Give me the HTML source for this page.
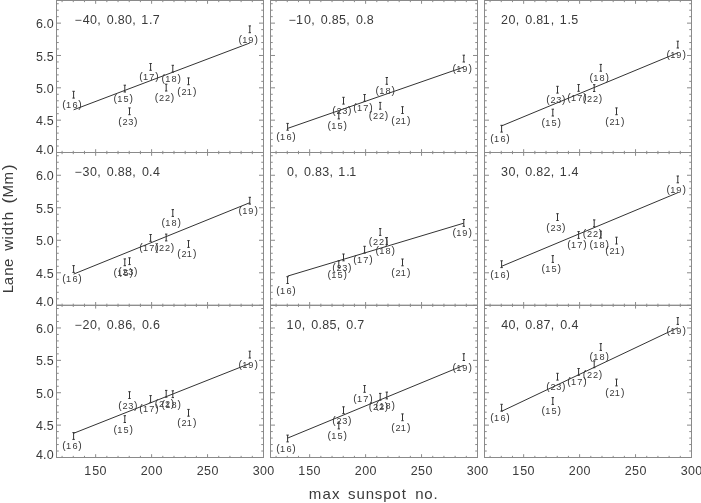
<!DOCTYPE html>
<html><head><meta charset="utf-8"><style>
html,body{margin:0;padding:0;background:#fff;}
svg{display:block;will-change:transform;}
text{font-family:"Liberation Sans",sans-serif;}
</style></head><body>
<svg width="701" height="503" viewBox="0 0 701 503">
<rect width="701" height="503" fill="#fff"/>
<rect x="56.5" y="0.5" width="207" height="152" fill="none" stroke="#8a8a8a" stroke-width="1"/>
<path d="M62.09 152.5v-1.65M62.09 0.5v1.65M73.28 152.5v-1.65M73.28 0.5v1.65M84.47 152.5v-1.65M84.47 0.5v1.65M95.66 152.5v-3.3M95.66 0.5v3.3M106.85 152.5v-1.65M106.85 0.5v1.65M118.04 152.5v-1.65M118.04 0.5v1.65M129.23 152.5v-1.65M129.23 0.5v1.65M140.42 152.5v-1.65M140.42 0.5v1.65M151.61 152.5v-3.3M151.61 0.5v3.3M162.8 152.5v-1.65M162.8 0.5v1.65M173.99 152.5v-1.65M173.99 0.5v1.65M185.18 152.5v-1.65M185.18 0.5v1.65M196.36 152.5v-1.65M196.36 0.5v1.65M207.55 152.5v-3.3M207.55 0.5v3.3M218.74 152.5v-1.65M218.74 0.5v1.65M229.93 152.5v-1.65M229.93 0.5v1.65M241.12 152.5v-1.65M241.12 0.5v1.65M252.31 152.5v-1.65M252.31 0.5v1.65M263.5 152.5v-3.3M263.5 0.5v3.3M56.5 152.5h4.5M263.5 152.5h-4.5M56.5 146.03h2.25M263.5 146.03h-2.25M56.5 139.56h2.25M263.5 139.56h-2.25M56.5 133.1h2.25M263.5 133.1h-2.25M56.5 126.63h2.25M263.5 126.63h-2.25M56.5 120.16h4.5M263.5 120.16h-4.5M56.5 113.69h2.25M263.5 113.69h-2.25M56.5 107.22h2.25M263.5 107.22h-2.25M56.5 100.76h2.25M263.5 100.76h-2.25M56.5 94.29h2.25M263.5 94.29h-2.25M56.5 87.82h4.5M263.5 87.82h-4.5M56.5 81.35h2.25M263.5 81.35h-2.25M56.5 74.88h2.25M263.5 74.88h-2.25M56.5 68.41h2.25M263.5 68.41h-2.25M56.5 61.95h2.25M263.5 61.95h-2.25M56.5 55.48h4.5M263.5 55.48h-4.5M56.5 49.01h2.25M263.5 49.01h-2.25M56.5 42.54h2.25M263.5 42.54h-2.25M56.5 36.07h2.25M263.5 36.07h-2.25M56.5 29.61h2.25M263.5 29.61h-2.25M56.5 23.14h4.5M263.5 23.14h-4.5M56.5 16.67h2.25M263.5 16.67h-2.25M56.5 10.2h2.25M263.5 10.2h-2.25M56.5 3.73h2.25M263.5 3.73h-2.25" stroke="#8a8a8a" stroke-width="1" fill="none"/>
<rect x="270.5" y="0.5" width="207" height="152" fill="none" stroke="#8a8a8a" stroke-width="1"/>
<path d="M276.09 152.5v-1.65M276.09 0.5v1.65M287.28 152.5v-1.65M287.28 0.5v1.65M298.47 152.5v-1.65M298.47 0.5v1.65M309.66 152.5v-3.3M309.66 0.5v3.3M320.85 152.5v-1.65M320.85 0.5v1.65M332.04 152.5v-1.65M332.04 0.5v1.65M343.23 152.5v-1.65M343.23 0.5v1.65M354.42 152.5v-1.65M354.42 0.5v1.65M365.61 152.5v-3.3M365.61 0.5v3.3M376.8 152.5v-1.65M376.8 0.5v1.65M387.99 152.5v-1.65M387.99 0.5v1.65M399.18 152.5v-1.65M399.18 0.5v1.65M410.36 152.5v-1.65M410.36 0.5v1.65M421.55 152.5v-3.3M421.55 0.5v3.3M432.74 152.5v-1.65M432.74 0.5v1.65M443.93 152.5v-1.65M443.93 0.5v1.65M455.12 152.5v-1.65M455.12 0.5v1.65M466.31 152.5v-1.65M466.31 0.5v1.65M477.5 152.5v-3.3M477.5 0.5v3.3M270.5 152.5h4.5M477.5 152.5h-4.5M270.5 146.03h2.25M477.5 146.03h-2.25M270.5 139.56h2.25M477.5 139.56h-2.25M270.5 133.1h2.25M477.5 133.1h-2.25M270.5 126.63h2.25M477.5 126.63h-2.25M270.5 120.16h4.5M477.5 120.16h-4.5M270.5 113.69h2.25M477.5 113.69h-2.25M270.5 107.22h2.25M477.5 107.22h-2.25M270.5 100.76h2.25M477.5 100.76h-2.25M270.5 94.29h2.25M477.5 94.29h-2.25M270.5 87.82h4.5M477.5 87.82h-4.5M270.5 81.35h2.25M477.5 81.35h-2.25M270.5 74.88h2.25M477.5 74.88h-2.25M270.5 68.41h2.25M477.5 68.41h-2.25M270.5 61.95h2.25M477.5 61.95h-2.25M270.5 55.48h4.5M477.5 55.48h-4.5M270.5 49.01h2.25M477.5 49.01h-2.25M270.5 42.54h2.25M477.5 42.54h-2.25M270.5 36.07h2.25M477.5 36.07h-2.25M270.5 29.61h2.25M477.5 29.61h-2.25M270.5 23.14h4.5M477.5 23.14h-4.5M270.5 16.67h2.25M477.5 16.67h-2.25M270.5 10.2h2.25M477.5 10.2h-2.25M270.5 3.73h2.25M477.5 3.73h-2.25" stroke="#8a8a8a" stroke-width="1" fill="none"/>
<rect x="484.5" y="0.5" width="207" height="152" fill="none" stroke="#8a8a8a" stroke-width="1"/>
<path d="M490.09 152.5v-1.65M490.09 0.5v1.65M501.28 152.5v-1.65M501.28 0.5v1.65M512.47 152.5v-1.65M512.47 0.5v1.65M523.66 152.5v-3.3M523.66 0.5v3.3M534.85 152.5v-1.65M534.85 0.5v1.65M546.04 152.5v-1.65M546.04 0.5v1.65M557.23 152.5v-1.65M557.23 0.5v1.65M568.42 152.5v-1.65M568.42 0.5v1.65M579.61 152.5v-3.3M579.61 0.5v3.3M590.8 152.5v-1.65M590.8 0.5v1.65M601.99 152.5v-1.65M601.99 0.5v1.65M613.18 152.5v-1.65M613.18 0.5v1.65M624.36 152.5v-1.65M624.36 0.5v1.65M635.55 152.5v-3.3M635.55 0.5v3.3M646.74 152.5v-1.65M646.74 0.5v1.65M657.93 152.5v-1.65M657.93 0.5v1.65M669.12 152.5v-1.65M669.12 0.5v1.65M680.31 152.5v-1.65M680.31 0.5v1.65M691.5 152.5v-3.3M691.5 0.5v3.3M484.5 152.5h4.5M691.5 152.5h-4.5M484.5 146.03h2.25M691.5 146.03h-2.25M484.5 139.56h2.25M691.5 139.56h-2.25M484.5 133.1h2.25M691.5 133.1h-2.25M484.5 126.63h2.25M691.5 126.63h-2.25M484.5 120.16h4.5M691.5 120.16h-4.5M484.5 113.69h2.25M691.5 113.69h-2.25M484.5 107.22h2.25M691.5 107.22h-2.25M484.5 100.76h2.25M691.5 100.76h-2.25M484.5 94.29h2.25M691.5 94.29h-2.25M484.5 87.82h4.5M691.5 87.82h-4.5M484.5 81.35h2.25M691.5 81.35h-2.25M484.5 74.88h2.25M691.5 74.88h-2.25M484.5 68.41h2.25M691.5 68.41h-2.25M484.5 61.95h2.25M691.5 61.95h-2.25M484.5 55.48h4.5M691.5 55.48h-4.5M484.5 49.01h2.25M691.5 49.01h-2.25M484.5 42.54h2.25M691.5 42.54h-2.25M484.5 36.07h2.25M691.5 36.07h-2.25M484.5 29.61h2.25M691.5 29.61h-2.25M484.5 23.14h4.5M691.5 23.14h-4.5M484.5 16.67h2.25M691.5 16.67h-2.25M484.5 10.2h2.25M691.5 10.2h-2.25M484.5 3.73h2.25M691.5 3.73h-2.25" stroke="#8a8a8a" stroke-width="1" fill="none"/>
<rect x="56.5" y="152.5" width="207" height="152.8" fill="none" stroke="#8a8a8a" stroke-width="1"/>
<path d="M62.09 305.3v-1.65M62.09 152.5v1.65M73.28 305.3v-1.65M73.28 152.5v1.65M84.47 305.3v-1.65M84.47 152.5v1.65M95.66 305.3v-3.3M95.66 152.5v3.3M106.85 305.3v-1.65M106.85 152.5v1.65M118.04 305.3v-1.65M118.04 152.5v1.65M129.23 305.3v-1.65M129.23 152.5v1.65M140.42 305.3v-1.65M140.42 152.5v1.65M151.61 305.3v-3.3M151.61 152.5v3.3M162.8 305.3v-1.65M162.8 152.5v1.65M173.99 305.3v-1.65M173.99 152.5v1.65M185.18 305.3v-1.65M185.18 152.5v1.65M196.36 305.3v-1.65M196.36 152.5v1.65M207.55 305.3v-3.3M207.55 152.5v3.3M218.74 305.3v-1.65M218.74 152.5v1.65M229.93 305.3v-1.65M229.93 152.5v1.65M241.12 305.3v-1.65M241.12 152.5v1.65M252.31 305.3v-1.65M252.31 152.5v1.65M263.5 305.3v-3.3M263.5 152.5v3.3M56.5 305.3h4.5M263.5 305.3h-4.5M56.5 298.8h2.25M263.5 298.8h-2.25M56.5 292.3h2.25M263.5 292.3h-2.25M56.5 285.79h2.25M263.5 285.79h-2.25M56.5 279.29h2.25M263.5 279.29h-2.25M56.5 272.79h4.5M263.5 272.79h-4.5M56.5 266.29h2.25M263.5 266.29h-2.25M56.5 259.79h2.25M263.5 259.79h-2.25M56.5 253.28h2.25M263.5 253.28h-2.25M56.5 246.78h2.25M263.5 246.78h-2.25M56.5 240.28h4.5M263.5 240.28h-4.5M56.5 233.78h2.25M263.5 233.78h-2.25M56.5 227.27h2.25M263.5 227.27h-2.25M56.5 220.77h2.25M263.5 220.77h-2.25M56.5 214.27h2.25M263.5 214.27h-2.25M56.5 207.77h4.5M263.5 207.77h-4.5M56.5 201.27h2.25M263.5 201.27h-2.25M56.5 194.76h2.25M263.5 194.76h-2.25M56.5 188.26h2.25M263.5 188.26h-2.25M56.5 181.76h2.25M263.5 181.76h-2.25M56.5 175.26h4.5M263.5 175.26h-4.5M56.5 168.76h2.25M263.5 168.76h-2.25M56.5 162.25h2.25M263.5 162.25h-2.25M56.5 155.75h2.25M263.5 155.75h-2.25" stroke="#8a8a8a" stroke-width="1" fill="none"/>
<rect x="270.5" y="152.5" width="207" height="152.8" fill="none" stroke="#8a8a8a" stroke-width="1"/>
<path d="M276.09 305.3v-1.65M276.09 152.5v1.65M287.28 305.3v-1.65M287.28 152.5v1.65M298.47 305.3v-1.65M298.47 152.5v1.65M309.66 305.3v-3.3M309.66 152.5v3.3M320.85 305.3v-1.65M320.85 152.5v1.65M332.04 305.3v-1.65M332.04 152.5v1.65M343.23 305.3v-1.65M343.23 152.5v1.65M354.42 305.3v-1.65M354.42 152.5v1.65M365.61 305.3v-3.3M365.61 152.5v3.3M376.8 305.3v-1.65M376.8 152.5v1.65M387.99 305.3v-1.65M387.99 152.5v1.65M399.18 305.3v-1.65M399.18 152.5v1.65M410.36 305.3v-1.65M410.36 152.5v1.65M421.55 305.3v-3.3M421.55 152.5v3.3M432.74 305.3v-1.65M432.74 152.5v1.65M443.93 305.3v-1.65M443.93 152.5v1.65M455.12 305.3v-1.65M455.12 152.5v1.65M466.31 305.3v-1.65M466.31 152.5v1.65M477.5 305.3v-3.3M477.5 152.5v3.3M270.5 305.3h4.5M477.5 305.3h-4.5M270.5 298.8h2.25M477.5 298.8h-2.25M270.5 292.3h2.25M477.5 292.3h-2.25M270.5 285.79h2.25M477.5 285.79h-2.25M270.5 279.29h2.25M477.5 279.29h-2.25M270.5 272.79h4.5M477.5 272.79h-4.5M270.5 266.29h2.25M477.5 266.29h-2.25M270.5 259.79h2.25M477.5 259.79h-2.25M270.5 253.28h2.25M477.5 253.28h-2.25M270.5 246.78h2.25M477.5 246.78h-2.25M270.5 240.28h4.5M477.5 240.28h-4.5M270.5 233.78h2.25M477.5 233.78h-2.25M270.5 227.27h2.25M477.5 227.27h-2.25M270.5 220.77h2.25M477.5 220.77h-2.25M270.5 214.27h2.25M477.5 214.27h-2.25M270.5 207.77h4.5M477.5 207.77h-4.5M270.5 201.27h2.25M477.5 201.27h-2.25M270.5 194.76h2.25M477.5 194.76h-2.25M270.5 188.26h2.25M477.5 188.26h-2.25M270.5 181.76h2.25M477.5 181.76h-2.25M270.5 175.26h4.5M477.5 175.26h-4.5M270.5 168.76h2.25M477.5 168.76h-2.25M270.5 162.25h2.25M477.5 162.25h-2.25M270.5 155.75h2.25M477.5 155.75h-2.25" stroke="#8a8a8a" stroke-width="1" fill="none"/>
<rect x="484.5" y="152.5" width="207" height="152.8" fill="none" stroke="#8a8a8a" stroke-width="1"/>
<path d="M490.09 305.3v-1.65M490.09 152.5v1.65M501.28 305.3v-1.65M501.28 152.5v1.65M512.47 305.3v-1.65M512.47 152.5v1.65M523.66 305.3v-3.3M523.66 152.5v3.3M534.85 305.3v-1.65M534.85 152.5v1.65M546.04 305.3v-1.65M546.04 152.5v1.65M557.23 305.3v-1.65M557.23 152.5v1.65M568.42 305.3v-1.65M568.42 152.5v1.65M579.61 305.3v-3.3M579.61 152.5v3.3M590.8 305.3v-1.65M590.8 152.5v1.65M601.99 305.3v-1.65M601.99 152.5v1.65M613.18 305.3v-1.65M613.18 152.5v1.65M624.36 305.3v-1.65M624.36 152.5v1.65M635.55 305.3v-3.3M635.55 152.5v3.3M646.74 305.3v-1.65M646.74 152.5v1.65M657.93 305.3v-1.65M657.93 152.5v1.65M669.12 305.3v-1.65M669.12 152.5v1.65M680.31 305.3v-1.65M680.31 152.5v1.65M691.5 305.3v-3.3M691.5 152.5v3.3M484.5 305.3h4.5M691.5 305.3h-4.5M484.5 298.8h2.25M691.5 298.8h-2.25M484.5 292.3h2.25M691.5 292.3h-2.25M484.5 285.79h2.25M691.5 285.79h-2.25M484.5 279.29h2.25M691.5 279.29h-2.25M484.5 272.79h4.5M691.5 272.79h-4.5M484.5 266.29h2.25M691.5 266.29h-2.25M484.5 259.79h2.25M691.5 259.79h-2.25M484.5 253.28h2.25M691.5 253.28h-2.25M484.5 246.78h2.25M691.5 246.78h-2.25M484.5 240.28h4.5M691.5 240.28h-4.5M484.5 233.78h2.25M691.5 233.78h-2.25M484.5 227.27h2.25M691.5 227.27h-2.25M484.5 220.77h2.25M691.5 220.77h-2.25M484.5 214.27h2.25M691.5 214.27h-2.25M484.5 207.77h4.5M691.5 207.77h-4.5M484.5 201.27h2.25M691.5 201.27h-2.25M484.5 194.76h2.25M691.5 194.76h-2.25M484.5 188.26h2.25M691.5 188.26h-2.25M484.5 181.76h2.25M691.5 181.76h-2.25M484.5 175.26h4.5M691.5 175.26h-4.5M484.5 168.76h2.25M691.5 168.76h-2.25M484.5 162.25h2.25M691.5 162.25h-2.25M484.5 155.75h2.25M691.5 155.75h-2.25" stroke="#8a8a8a" stroke-width="1" fill="none"/>
<rect x="56.5" y="305.3" width="207" height="152.2" fill="none" stroke="#8a8a8a" stroke-width="1"/>
<path d="M62.09 457.5v-1.65M62.09 305.3v1.65M73.28 457.5v-1.65M73.28 305.3v1.65M84.47 457.5v-1.65M84.47 305.3v1.65M95.66 457.5v-3.3M95.66 305.3v3.3M106.85 457.5v-1.65M106.85 305.3v1.65M118.04 457.5v-1.65M118.04 305.3v1.65M129.23 457.5v-1.65M129.23 305.3v1.65M140.42 457.5v-1.65M140.42 305.3v1.65M151.61 457.5v-3.3M151.61 305.3v3.3M162.8 457.5v-1.65M162.8 305.3v1.65M173.99 457.5v-1.65M173.99 305.3v1.65M185.18 457.5v-1.65M185.18 305.3v1.65M196.36 457.5v-1.65M196.36 305.3v1.65M207.55 457.5v-3.3M207.55 305.3v3.3M218.74 457.5v-1.65M218.74 305.3v1.65M229.93 457.5v-1.65M229.93 305.3v1.65M241.12 457.5v-1.65M241.12 305.3v1.65M252.31 457.5v-1.65M252.31 305.3v1.65M263.5 457.5v-3.3M263.5 305.3v3.3M56.5 457.5h4.5M263.5 457.5h-4.5M56.5 451.02h2.25M263.5 451.02h-2.25M56.5 444.55h2.25M263.5 444.55h-2.25M56.5 438.07h2.25M263.5 438.07h-2.25M56.5 431.59h2.25M263.5 431.59h-2.25M56.5 425.12h4.5M263.5 425.12h-4.5M56.5 418.64h2.25M263.5 418.64h-2.25M56.5 412.16h2.25M263.5 412.16h-2.25M56.5 405.69h2.25M263.5 405.69h-2.25M56.5 399.21h2.25M263.5 399.21h-2.25M56.5 392.73h4.5M263.5 392.73h-4.5M56.5 386.26h2.25M263.5 386.26h-2.25M56.5 379.78h2.25M263.5 379.78h-2.25M56.5 373.3h2.25M263.5 373.3h-2.25M56.5 366.83h2.25M263.5 366.83h-2.25M56.5 360.35h4.5M263.5 360.35h-4.5M56.5 353.87h2.25M263.5 353.87h-2.25M56.5 347.4h2.25M263.5 347.4h-2.25M56.5 340.92h2.25M263.5 340.92h-2.25M56.5 334.44h2.25M263.5 334.44h-2.25M56.5 327.97h4.5M263.5 327.97h-4.5M56.5 321.49h2.25M263.5 321.49h-2.25M56.5 315.01h2.25M263.5 315.01h-2.25M56.5 308.54h2.25M263.5 308.54h-2.25" stroke="#8a8a8a" stroke-width="1" fill="none"/>
<rect x="270.5" y="305.3" width="207" height="152.2" fill="none" stroke="#8a8a8a" stroke-width="1"/>
<path d="M276.09 457.5v-1.65M276.09 305.3v1.65M287.28 457.5v-1.65M287.28 305.3v1.65M298.47 457.5v-1.65M298.47 305.3v1.65M309.66 457.5v-3.3M309.66 305.3v3.3M320.85 457.5v-1.65M320.85 305.3v1.65M332.04 457.5v-1.65M332.04 305.3v1.65M343.23 457.5v-1.65M343.23 305.3v1.65M354.42 457.5v-1.65M354.42 305.3v1.65M365.61 457.5v-3.3M365.61 305.3v3.3M376.8 457.5v-1.65M376.8 305.3v1.65M387.99 457.5v-1.65M387.99 305.3v1.65M399.18 457.5v-1.65M399.18 305.3v1.65M410.36 457.5v-1.65M410.36 305.3v1.65M421.55 457.5v-3.3M421.55 305.3v3.3M432.74 457.5v-1.65M432.74 305.3v1.65M443.93 457.5v-1.65M443.93 305.3v1.65M455.12 457.5v-1.65M455.12 305.3v1.65M466.31 457.5v-1.65M466.31 305.3v1.65M477.5 457.5v-3.3M477.5 305.3v3.3M270.5 457.5h4.5M477.5 457.5h-4.5M270.5 451.02h2.25M477.5 451.02h-2.25M270.5 444.55h2.25M477.5 444.55h-2.25M270.5 438.07h2.25M477.5 438.07h-2.25M270.5 431.59h2.25M477.5 431.59h-2.25M270.5 425.12h4.5M477.5 425.12h-4.5M270.5 418.64h2.25M477.5 418.64h-2.25M270.5 412.16h2.25M477.5 412.16h-2.25M270.5 405.69h2.25M477.5 405.69h-2.25M270.5 399.21h2.25M477.5 399.21h-2.25M270.5 392.73h4.5M477.5 392.73h-4.5M270.5 386.26h2.25M477.5 386.26h-2.25M270.5 379.78h2.25M477.5 379.78h-2.25M270.5 373.3h2.25M477.5 373.3h-2.25M270.5 366.83h2.25M477.5 366.83h-2.25M270.5 360.35h4.5M477.5 360.35h-4.5M270.5 353.87h2.25M477.5 353.87h-2.25M270.5 347.4h2.25M477.5 347.4h-2.25M270.5 340.92h2.25M477.5 340.92h-2.25M270.5 334.44h2.25M477.5 334.44h-2.25M270.5 327.97h4.5M477.5 327.97h-4.5M270.5 321.49h2.25M477.5 321.49h-2.25M270.5 315.01h2.25M477.5 315.01h-2.25M270.5 308.54h2.25M477.5 308.54h-2.25" stroke="#8a8a8a" stroke-width="1" fill="none"/>
<rect x="484.5" y="305.3" width="207" height="152.2" fill="none" stroke="#8a8a8a" stroke-width="1"/>
<path d="M490.09 457.5v-1.65M490.09 305.3v1.65M501.28 457.5v-1.65M501.28 305.3v1.65M512.47 457.5v-1.65M512.47 305.3v1.65M523.66 457.5v-3.3M523.66 305.3v3.3M534.85 457.5v-1.65M534.85 305.3v1.65M546.04 457.5v-1.65M546.04 305.3v1.65M557.23 457.5v-1.65M557.23 305.3v1.65M568.42 457.5v-1.65M568.42 305.3v1.65M579.61 457.5v-3.3M579.61 305.3v3.3M590.8 457.5v-1.65M590.8 305.3v1.65M601.99 457.5v-1.65M601.99 305.3v1.65M613.18 457.5v-1.65M613.18 305.3v1.65M624.36 457.5v-1.65M624.36 305.3v1.65M635.55 457.5v-3.3M635.55 305.3v3.3M646.74 457.5v-1.65M646.74 305.3v1.65M657.93 457.5v-1.65M657.93 305.3v1.65M669.12 457.5v-1.65M669.12 305.3v1.65M680.31 457.5v-1.65M680.31 305.3v1.65M691.5 457.5v-3.3M691.5 305.3v3.3M484.5 457.5h4.5M691.5 457.5h-4.5M484.5 451.02h2.25M691.5 451.02h-2.25M484.5 444.55h2.25M691.5 444.55h-2.25M484.5 438.07h2.25M691.5 438.07h-2.25M484.5 431.59h2.25M691.5 431.59h-2.25M484.5 425.12h4.5M691.5 425.12h-4.5M484.5 418.64h2.25M691.5 418.64h-2.25M484.5 412.16h2.25M691.5 412.16h-2.25M484.5 405.69h2.25M691.5 405.69h-2.25M484.5 399.21h2.25M691.5 399.21h-2.25M484.5 392.73h4.5M691.5 392.73h-4.5M484.5 386.26h2.25M691.5 386.26h-2.25M484.5 379.78h2.25M691.5 379.78h-2.25M484.5 373.3h2.25M691.5 373.3h-2.25M484.5 366.83h2.25M691.5 366.83h-2.25M484.5 360.35h4.5M691.5 360.35h-4.5M484.5 353.87h2.25M691.5 353.87h-2.25M484.5 347.4h2.25M691.5 347.4h-2.25M484.5 340.92h2.25M691.5 340.92h-2.25M484.5 334.44h2.25M691.5 334.44h-2.25M484.5 327.97h4.5M691.5 327.97h-4.5M484.5 321.49h2.25M691.5 321.49h-2.25M484.5 315.01h2.25M691.5 315.01h-2.25M484.5 308.54h2.25M691.5 308.54h-2.25" stroke="#8a8a8a" stroke-width="1" fill="none"/>
<g fill="#3a3a3a" font-family="Liberation Sans, sans-serif">
<text x="74.83 82.15 88.95 94.18 98.71 104.98 110.21 115.44 122.41 127.64 132.17 137.78 143.67 148.9" y="23.8" font-size="11.9" text-anchor="middle" transform="scale(1.05 1)">−40, 0.80, 1.7</text>
<text x="278.64 285.12 292.76 297.99 302.52 308.79 314.02 319.25 326.22 331.45 335.98 342.26 347.48 352.71" y="23.8" font-size="11.9" text-anchor="middle" transform="scale(1.05 1)">−10, 0.85, 0.8</text>
<text x="480.53 487.5 492.73 497.26 503.54 508.77 514 520.3 526.2 530.73 536.33 542.23 547.46" y="23.8" font-size="11.9" text-anchor="middle" transform="scale(1.05 1)">20, 0.81, 1.5</text>
<text x="74.83 81.98 88.95 94.18 98.71 104.98 110.21 115.44 122.41 127.64 132.17 138.45 143.67 149.08" y="175.8" font-size="11.9" text-anchor="middle" transform="scale(1.05 1)">−30, 0.88, 0.4</text>
<text x="276.72 281.95 286.48 292.76 297.99 303.22 310.19 315.42 319.95 325.55 331.45 336.01" y="175.8" font-size="11.9" text-anchor="middle" transform="scale(1.05 1)">0, 0.83, 1.1</text>
<text x="480.53 487.5 492.73 497.26 503.54 508.77 514 520.97 526.2 530.73 536.33 542.23 547.63" y="175.8" font-size="11.9" text-anchor="middle" transform="scale(1.05 1)">30, 0.82, 1.4</text>
<text x="74.83 81.98 88.95 94.18 98.71 104.98 110.21 115.44 122.59 127.64 132.17 138.45 143.67 149.08" y="328.6" font-size="11.9" text-anchor="middle" transform="scale(1.05 1)">−20, 0.86, 0.6</text>
<text x="276.05 283.7 288.92 293.46 299.73 304.96 310.19 317.16 322.39 326.92 333.19 338.42 343.65" y="328.6" font-size="11.9" text-anchor="middle" transform="scale(1.05 1)">10, 0.85, 0.7</text>
<text x="480.71 487.5 492.73 497.26 503.54 508.77 514 520.97 526.2 530.73 537 542.23 547.63" y="328.6" font-size="11.9" text-anchor="middle" transform="scale(1.05 1)">40, 0.87, 0.4</text>
</g>
<g fill="#3a3a3a" font-family="Liberation Sans, sans-serif">
<text x="37.66 42.71 47.94" y="153.6" font-size="11.9" text-anchor="middle" transform="scale(1.05 1)">4.0</text>
<text x="37.66 42.71 47.94" y="125.26" font-size="11.9" text-anchor="middle" transform="scale(1.05 1)">4.5</text>
<text x="37.49 42.71 47.94" y="92.92" font-size="11.9" text-anchor="middle" transform="scale(1.05 1)">5.0</text>
<text x="37.49 42.71 47.94" y="60.58" font-size="11.9" text-anchor="middle" transform="scale(1.05 1)">5.5</text>
<text x="37.66 42.71 47.94" y="28.24" font-size="11.9" text-anchor="middle" transform="scale(1.05 1)">6.0</text>
<text x="37.66 42.71 47.94" y="306.4" font-size="11.9" text-anchor="middle" transform="scale(1.05 1)">4.0</text>
<text x="37.66 42.71 47.94" y="277.89" font-size="11.9" text-anchor="middle" transform="scale(1.05 1)">4.5</text>
<text x="37.49 42.71 47.94" y="245.38" font-size="11.9" text-anchor="middle" transform="scale(1.05 1)">5.0</text>
<text x="37.49 42.71 47.94" y="212.87" font-size="11.9" text-anchor="middle" transform="scale(1.05 1)">5.5</text>
<text x="37.66 42.71 47.94" y="180.36" font-size="11.9" text-anchor="middle" transform="scale(1.05 1)">6.0</text>
<text x="37.66 42.71 47.94" y="458.6" font-size="11.9" text-anchor="middle" transform="scale(1.05 1)">4.0</text>
<text x="37.66 42.71 47.94" y="430.22" font-size="11.9" text-anchor="middle" transform="scale(1.05 1)">4.5</text>
<text x="37.49 42.71 47.94" y="397.83" font-size="11.9" text-anchor="middle" transform="scale(1.05 1)">5.0</text>
<text x="37.49 42.71 47.94" y="365.45" font-size="11.9" text-anchor="middle" transform="scale(1.05 1)">5.5</text>
<text x="37.66 42.71 47.94" y="333.07" font-size="11.9" text-anchor="middle" transform="scale(1.05 1)">6.0</text>
<text x="83.47 91.11 98.08" y="474.7" font-size="11.9" text-anchor="middle" transform="scale(1.05 1)">150</text>
<text x="137.42 144.39 151.36" y="474.7" font-size="11.9" text-anchor="middle" transform="scale(1.05 1)">200</text>
<text x="190.7 197.67 204.64" y="474.7" font-size="11.9" text-anchor="middle" transform="scale(1.05 1)">250</text>
<text x="243.98 250.95 257.92" y="474.7" font-size="11.9" text-anchor="middle" transform="scale(1.05 1)">300</text>
<text x="287.27 294.92 301.89" y="474.7" font-size="11.9" text-anchor="middle" transform="scale(1.05 1)">150</text>
<text x="341.23 348.2 355.17" y="474.7" font-size="11.9" text-anchor="middle" transform="scale(1.05 1)">200</text>
<text x="394.51 401.48 408.45" y="474.7" font-size="11.9" text-anchor="middle" transform="scale(1.05 1)">250</text>
<text x="447.79 454.76 461.73" y="474.7" font-size="11.9" text-anchor="middle" transform="scale(1.05 1)">300</text>
<text x="491.08 498.73 505.7" y="474.7" font-size="11.9" text-anchor="middle" transform="scale(1.05 1)">150</text>
<text x="545.04 552.01 558.98" y="474.7" font-size="11.9" text-anchor="middle" transform="scale(1.05 1)">200</text>
<text x="598.32 605.29 612.26" y="474.7" font-size="11.9" text-anchor="middle" transform="scale(1.05 1)">250</text>
<text x="651.6 658.57 665.54" y="474.7" font-size="11.9" text-anchor="middle" transform="scale(1.05 1)">300</text>
</g>
<g stroke="#333" stroke-width="1" fill="none">
<line x1="73.6" y1="109.8" x2="249.8" y2="43"/>
<path d="M73.6 91.3V98.1M72.4 91.3h2.4M72.4 98.1h2.4"/>
<path d="M124.8 85.2V92M123.6 85.2h2.4M123.6 92h2.4"/>
<path d="M129.5 107.9V114.7M128.3 107.9h2.4M128.3 114.7h2.4"/>
<path d="M150.6 63.5V70.3M149.4 63.5h2.4M149.4 70.3h2.4"/>
<path d="M166.2 84.2V91M165 84.2h2.4M165 91h2.4"/>
<path d="M172.8 65.3V72.1M171.6 65.3h2.4M171.6 72.1h2.4"/>
<path d="M188.5 77.9V84.7M187.3 77.9h2.4M187.3 84.7h2.4"/>
<path d="M249.8 25.9V32.7M248.6 25.9h2.4M248.6 32.7h2.4"/>
<line x1="287.6" y1="128.4" x2="463.8" y2="67.1"/>
<path d="M287.6 123.4V130.2M286.4 123.4h2.4M286.4 130.2h2.4"/>
<path d="M338.8 112.1V118.9M337.6 112.1h2.4M337.6 118.9h2.4"/>
<path d="M343.5 97.3V104.1M342.3 97.3h2.4M342.3 104.1h2.4"/>
<path d="M364.6 94.5V101.3M363.4 94.5h2.4M363.4 101.3h2.4"/>
<path d="M380.2 102.4V109.2M379 102.4h2.4M379 109.2h2.4"/>
<path d="M386.8 77.5V84.3M385.6 77.5h2.4M385.6 84.3h2.4"/>
<path d="M402.5 106.7V113.5M401.3 106.7h2.4M401.3 113.5h2.4"/>
<path d="M463.8 55.2V62M462.6 55.2h2.4M462.6 62h2.4"/>
<line x1="501.6" y1="125.9" x2="677.8" y2="52.8"/>
<path d="M501.6 125.3V132.1M500.4 125.3h2.4M500.4 132.1h2.4"/>
<path d="M552.8 109.2V116M551.6 109.2h2.4M551.6 116h2.4"/>
<path d="M557.5 86.3V93.1M556.3 86.3h2.4M556.3 93.1h2.4"/>
<path d="M578.6 84.5V91.3M577.4 84.5h2.4M577.4 91.3h2.4"/>
<path d="M594.2 84.7V91.5M593 84.7h2.4M593 91.5h2.4"/>
<path d="M600.8 64.4V71.2M599.6 64.4h2.4M599.6 71.2h2.4"/>
<path d="M616.5 107.9V114.7M615.3 107.9h2.4M615.3 114.7h2.4"/>
<path d="M677.8 41.2V48M676.6 41.2h2.4M676.6 48h2.4"/>
<line x1="73.6" y1="274.1" x2="249.8" y2="202.7"/>
<path d="M73.6 265.6V272.4M72.4 265.6h2.4M72.4 272.4h2.4"/>
<path d="M124.8 258.9V265.7M123.6 258.9h2.4M123.6 265.7h2.4"/>
<path d="M129.5 257.8V264.6M128.3 257.8h2.4M128.3 264.6h2.4"/>
<path d="M150.6 234.5V241.3M149.4 234.5h2.4M149.4 241.3h2.4"/>
<path d="M166.2 234.1V240.9M165 234.1h2.4M165 240.9h2.4"/>
<path d="M172.8 209.6V216.4M171.6 209.6h2.4M171.6 216.4h2.4"/>
<path d="M188.5 240.6V247.4M187.3 240.6h2.4M187.3 247.4h2.4"/>
<path d="M249.8 197.3V204.1M248.6 197.3h2.4M248.6 204.1h2.4"/>
<line x1="287.6" y1="276.1" x2="463.8" y2="223.15"/>
<path d="M287.6 276.7V283.5M286.4 276.7h2.4M286.4 283.5h2.4"/>
<path d="M338.8 260.8V267.6M337.6 260.8h2.4M337.6 267.6h2.4"/>
<path d="M343.5 254V260.8M342.3 254h2.4M342.3 260.8h2.4"/>
<path d="M364.6 246.3V253.1M363.4 246.3h2.4M363.4 253.1h2.4"/>
<path d="M380.2 228.6V235.4M379 228.6h2.4M379 235.4h2.4"/>
<path d="M386.8 237.6V244.4M385.6 237.6h2.4M385.6 244.4h2.4"/>
<path d="M402.5 259V265.8M401.3 259h2.4M401.3 265.8h2.4"/>
<path d="M463.8 219.5V226.3M462.6 219.5h2.4M462.6 226.3h2.4"/>
<line x1="501.6" y1="266.3" x2="677.8" y2="192.7"/>
<path d="M501.6 260.8V267.6M500.4 260.8h2.4M500.4 267.6h2.4"/>
<path d="M552.8 255.6V262.4M551.6 255.6h2.4M551.6 262.4h2.4"/>
<path d="M557.5 213.7V220.5M556.3 213.7h2.4M556.3 220.5h2.4"/>
<path d="M578.6 231.6V238.4M577.4 231.6h2.4M577.4 238.4h2.4"/>
<path d="M594.2 219.9V226.7M593 219.9h2.4M593 226.7h2.4"/>
<path d="M600.8 231.2V238M599.6 231.2h2.4M599.6 238h2.4"/>
<path d="M616.5 237.2V244M615.3 237.2h2.4M615.3 244h2.4"/>
<path d="M677.8 176V182.8M676.6 176h2.4M676.6 182.8h2.4"/>
<line x1="73.6" y1="433.3" x2="249.8" y2="363.5"/>
<path d="M73.6 432.6V439.4M72.4 432.6h2.4M72.4 439.4h2.4"/>
<path d="M124.8 415.7V422.5M123.6 415.7h2.4M123.6 422.5h2.4"/>
<path d="M129.5 391.7V398.5M128.3 391.7h2.4M128.3 398.5h2.4"/>
<path d="M150.6 395.6V402.4M149.4 395.6h2.4M149.4 402.4h2.4"/>
<path d="M166.2 390.4V397.2M165 390.4h2.4M165 397.2h2.4"/>
<path d="M172.8 390.8V397.6M171.6 390.8h2.4M171.6 397.6h2.4"/>
<path d="M188.5 409.4V416.2M187.3 409.4h2.4M187.3 416.2h2.4"/>
<path d="M249.8 351.2V358M248.6 351.2h2.4M248.6 358h2.4"/>
<line x1="287.6" y1="438.1" x2="463.8" y2="365.3"/>
<path d="M287.6 435.1V441.9M286.4 435.1h2.4M286.4 441.9h2.4"/>
<path d="M338.8 422.1V428.9M337.6 422.1h2.4M337.6 428.9h2.4"/>
<path d="M343.5 406.8V413.6M342.3 406.8h2.4M342.3 413.6h2.4"/>
<path d="M364.6 385.5V392.3M363.4 385.5h2.4M363.4 392.3h2.4"/>
<path d="M380.2 393.4V400.2M379 393.4h2.4M379 400.2h2.4"/>
<path d="M386.8 392.1V398.9M385.6 392.1h2.4M385.6 398.9h2.4"/>
<path d="M402.5 413.9V420.7M401.3 413.9h2.4M401.3 420.7h2.4"/>
<path d="M463.8 353.7V360.5M462.6 353.7h2.4M462.6 360.5h2.4"/>
<line x1="501.6" y1="411.3" x2="677.8" y2="327.7"/>
<path d="M501.6 404.3V411.1M500.4 404.3h2.4M500.4 411.1h2.4"/>
<path d="M552.8 397.6V404.4M551.6 397.6h2.4M551.6 404.4h2.4"/>
<path d="M557.5 373.3V380.1M556.3 373.3h2.4M556.3 380.1h2.4"/>
<path d="M578.6 368.5V375.3M577.4 368.5h2.4M577.4 375.3h2.4"/>
<path d="M594.2 360.9V367.7M593 360.9h2.4M593 367.7h2.4"/>
<path d="M600.8 343.6V350.4M599.6 343.6h2.4M599.6 350.4h2.4"/>
<path d="M616.5 379.1V385.9M615.3 379.1h2.4M615.3 385.9h2.4"/>
<path d="M677.8 317.6V324.4M676.6 317.6h2.4M676.6 324.4h2.4"/>
</g>
<g fill="#3a3a3a" font-family="Liberation Sans, sans-serif">
<text y="108.1" text-anchor="middle" font-size="9.2"><tspan x="63.97" font-size="10.4">(</tspan><tspan x="68.5">1</tspan><tspan x="74.99">6</tspan><tspan x="79.93" font-size="10.4">)</tspan></text>
<text y="102" text-anchor="middle" font-size="9.2"><tspan x="115.17" font-size="10.4">(</tspan><tspan x="119.7">1</tspan><tspan x="126.05">5</tspan><tspan x="131.13" font-size="10.4">)</tspan></text>
<text y="124.7" text-anchor="middle" font-size="9.2"><tspan x="119.87" font-size="10.4">(</tspan><tspan x="124.95">2</tspan><tspan x="130.75">3</tspan><tspan x="135.83" font-size="10.4">)</tspan></text>
<text y="80.3" text-anchor="middle" font-size="9.2"><tspan x="140.97" font-size="10.4">(</tspan><tspan x="145.5">1</tspan><tspan x="151.85">7</tspan><tspan x="156.93" font-size="10.4">)</tspan></text>
<text y="101" text-anchor="middle" font-size="9.2"><tspan x="156.57" font-size="10.4">(</tspan><tspan x="161.65">2</tspan><tspan x="167.45">2</tspan><tspan x="172.53" font-size="10.4">)</tspan></text>
<text y="82.1" text-anchor="middle" font-size="9.2"><tspan x="163.17" font-size="10.4">(</tspan><tspan x="167.7">1</tspan><tspan x="174.05">8</tspan><tspan x="179.13" font-size="10.4">)</tspan></text>
<text y="94.7" text-anchor="middle" font-size="9.2"><tspan x="178.87" font-size="10.4">(</tspan><tspan x="183.95">2</tspan><tspan x="189.2">1</tspan><tspan x="194.83" font-size="10.4">)</tspan></text>
<text y="42.7" text-anchor="middle" font-size="9.2"><tspan x="240.17" font-size="10.4">(</tspan><tspan x="244.7">1</tspan><tspan x="250.91">9</tspan><tspan x="256.13" font-size="10.4">)</tspan></text>
<text y="140.2" text-anchor="middle" font-size="9.2"><tspan x="277.97" font-size="10.4">(</tspan><tspan x="282.5">1</tspan><tspan x="289">6</tspan><tspan x="293.93" font-size="10.4">)</tspan></text>
<text y="128.9" text-anchor="middle" font-size="9.2"><tspan x="329.17" font-size="10.4">(</tspan><tspan x="333.7">1</tspan><tspan x="340.05">5</tspan><tspan x="345.13" font-size="10.4">)</tspan></text>
<text y="114.1" text-anchor="middle" font-size="9.2"><tspan x="333.87" font-size="10.4">(</tspan><tspan x="338.95">2</tspan><tspan x="344.75">3</tspan><tspan x="349.83" font-size="10.4">)</tspan></text>
<text y="111.3" text-anchor="middle" font-size="9.2"><tspan x="354.97" font-size="10.4">(</tspan><tspan x="359.5">1</tspan><tspan x="365.85">7</tspan><tspan x="370.93" font-size="10.4">)</tspan></text>
<text y="119.2" text-anchor="middle" font-size="9.2"><tspan x="370.57" font-size="10.4">(</tspan><tspan x="375.65">2</tspan><tspan x="381.45">2</tspan><tspan x="386.53" font-size="10.4">)</tspan></text>
<text y="94.3" text-anchor="middle" font-size="9.2"><tspan x="377.17" font-size="10.4">(</tspan><tspan x="381.7">1</tspan><tspan x="388.05">8</tspan><tspan x="393.13" font-size="10.4">)</tspan></text>
<text y="123.5" text-anchor="middle" font-size="9.2"><tspan x="392.87" font-size="10.4">(</tspan><tspan x="397.95">2</tspan><tspan x="403.2">1</tspan><tspan x="408.83" font-size="10.4">)</tspan></text>
<text y="72" text-anchor="middle" font-size="9.2"><tspan x="454.17" font-size="10.4">(</tspan><tspan x="458.7">1</tspan><tspan x="464.91">9</tspan><tspan x="470.13" font-size="10.4">)</tspan></text>
<text y="142.1" text-anchor="middle" font-size="9.2"><tspan x="491.97" font-size="10.4">(</tspan><tspan x="496.5">1</tspan><tspan x="503">6</tspan><tspan x="507.93" font-size="10.4">)</tspan></text>
<text y="126" text-anchor="middle" font-size="9.2"><tspan x="543.17" font-size="10.4">(</tspan><tspan x="547.7">1</tspan><tspan x="554.05">5</tspan><tspan x="559.13" font-size="10.4">)</tspan></text>
<text y="103.1" text-anchor="middle" font-size="9.2"><tspan x="547.87" font-size="10.4">(</tspan><tspan x="552.95">2</tspan><tspan x="558.75">3</tspan><tspan x="563.83" font-size="10.4">)</tspan></text>
<text y="101.3" text-anchor="middle" font-size="9.2"><tspan x="568.97" font-size="10.4">(</tspan><tspan x="573.5">1</tspan><tspan x="579.85">7</tspan><tspan x="584.93" font-size="10.4">)</tspan></text>
<text y="101.5" text-anchor="middle" font-size="9.2"><tspan x="584.57" font-size="10.4">(</tspan><tspan x="589.65">2</tspan><tspan x="595.45">2</tspan><tspan x="600.53" font-size="10.4">)</tspan></text>
<text y="81.2" text-anchor="middle" font-size="9.2"><tspan x="591.17" font-size="10.4">(</tspan><tspan x="595.7">1</tspan><tspan x="602.05">8</tspan><tspan x="607.13" font-size="10.4">)</tspan></text>
<text y="124.7" text-anchor="middle" font-size="9.2"><tspan x="606.87" font-size="10.4">(</tspan><tspan x="611.95">2</tspan><tspan x="617.2">1</tspan><tspan x="622.83" font-size="10.4">)</tspan></text>
<text y="58" text-anchor="middle" font-size="9.2"><tspan x="668.17" font-size="10.4">(</tspan><tspan x="672.7">1</tspan><tspan x="678.9">9</tspan><tspan x="684.13" font-size="10.4">)</tspan></text>
<text y="282.4" text-anchor="middle" font-size="9.2"><tspan x="63.97" font-size="10.4">(</tspan><tspan x="68.5">1</tspan><tspan x="74.99">6</tspan><tspan x="79.93" font-size="10.4">)</tspan></text>
<text y="275.7" text-anchor="middle" font-size="9.2"><tspan x="115.17" font-size="10.4">(</tspan><tspan x="119.7">1</tspan><tspan x="126.05">5</tspan><tspan x="131.13" font-size="10.4">)</tspan></text>
<text y="274.6" text-anchor="middle" font-size="9.2"><tspan x="119.87" font-size="10.4">(</tspan><tspan x="124.95">2</tspan><tspan x="130.75">3</tspan><tspan x="135.83" font-size="10.4">)</tspan></text>
<text y="251.3" text-anchor="middle" font-size="9.2"><tspan x="140.97" font-size="10.4">(</tspan><tspan x="145.5">1</tspan><tspan x="151.85">7</tspan><tspan x="156.93" font-size="10.4">)</tspan></text>
<text y="250.9" text-anchor="middle" font-size="9.2"><tspan x="156.57" font-size="10.4">(</tspan><tspan x="161.65">2</tspan><tspan x="167.45">2</tspan><tspan x="172.53" font-size="10.4">)</tspan></text>
<text y="226.4" text-anchor="middle" font-size="9.2"><tspan x="163.17" font-size="10.4">(</tspan><tspan x="167.7">1</tspan><tspan x="174.05">8</tspan><tspan x="179.13" font-size="10.4">)</tspan></text>
<text y="257.4" text-anchor="middle" font-size="9.2"><tspan x="178.87" font-size="10.4">(</tspan><tspan x="183.95">2</tspan><tspan x="189.2">1</tspan><tspan x="194.83" font-size="10.4">)</tspan></text>
<text y="214.1" text-anchor="middle" font-size="9.2"><tspan x="240.17" font-size="10.4">(</tspan><tspan x="244.7">1</tspan><tspan x="250.91">9</tspan><tspan x="256.13" font-size="10.4">)</tspan></text>
<text y="293.5" text-anchor="middle" font-size="9.2"><tspan x="277.97" font-size="10.4">(</tspan><tspan x="282.5">1</tspan><tspan x="289">6</tspan><tspan x="293.93" font-size="10.4">)</tspan></text>
<text y="277.6" text-anchor="middle" font-size="9.2"><tspan x="329.17" font-size="10.4">(</tspan><tspan x="333.7">1</tspan><tspan x="340.05">5</tspan><tspan x="345.13" font-size="10.4">)</tspan></text>
<text y="270.8" text-anchor="middle" font-size="9.2"><tspan x="333.87" font-size="10.4">(</tspan><tspan x="338.95">2</tspan><tspan x="344.75">3</tspan><tspan x="349.83" font-size="10.4">)</tspan></text>
<text y="263.1" text-anchor="middle" font-size="9.2"><tspan x="354.97" font-size="10.4">(</tspan><tspan x="359.5">1</tspan><tspan x="365.85">7</tspan><tspan x="370.93" font-size="10.4">)</tspan></text>
<text y="245.4" text-anchor="middle" font-size="9.2"><tspan x="370.57" font-size="10.4">(</tspan><tspan x="375.65">2</tspan><tspan x="381.45">2</tspan><tspan x="386.53" font-size="10.4">)</tspan></text>
<text y="254.4" text-anchor="middle" font-size="9.2"><tspan x="377.17" font-size="10.4">(</tspan><tspan x="381.7">1</tspan><tspan x="388.05">8</tspan><tspan x="393.13" font-size="10.4">)</tspan></text>
<text y="275.8" text-anchor="middle" font-size="9.2"><tspan x="392.87" font-size="10.4">(</tspan><tspan x="397.95">2</tspan><tspan x="403.2">1</tspan><tspan x="408.83" font-size="10.4">)</tspan></text>
<text y="236.3" text-anchor="middle" font-size="9.2"><tspan x="454.17" font-size="10.4">(</tspan><tspan x="458.7">1</tspan><tspan x="464.91">9</tspan><tspan x="470.13" font-size="10.4">)</tspan></text>
<text y="277.6" text-anchor="middle" font-size="9.2"><tspan x="491.97" font-size="10.4">(</tspan><tspan x="496.5">1</tspan><tspan x="503">6</tspan><tspan x="507.93" font-size="10.4">)</tspan></text>
<text y="272.4" text-anchor="middle" font-size="9.2"><tspan x="543.17" font-size="10.4">(</tspan><tspan x="547.7">1</tspan><tspan x="554.05">5</tspan><tspan x="559.13" font-size="10.4">)</tspan></text>
<text y="230.5" text-anchor="middle" font-size="9.2"><tspan x="547.87" font-size="10.4">(</tspan><tspan x="552.95">2</tspan><tspan x="558.75">3</tspan><tspan x="563.83" font-size="10.4">)</tspan></text>
<text y="248.4" text-anchor="middle" font-size="9.2"><tspan x="568.97" font-size="10.4">(</tspan><tspan x="573.5">1</tspan><tspan x="579.85">7</tspan><tspan x="584.93" font-size="10.4">)</tspan></text>
<text y="236.7" text-anchor="middle" font-size="9.2"><tspan x="584.57" font-size="10.4">(</tspan><tspan x="589.65">2</tspan><tspan x="595.45">2</tspan><tspan x="600.53" font-size="10.4">)</tspan></text>
<text y="248" text-anchor="middle" font-size="9.2"><tspan x="591.17" font-size="10.4">(</tspan><tspan x="595.7">1</tspan><tspan x="602.05">8</tspan><tspan x="607.13" font-size="10.4">)</tspan></text>
<text y="254" text-anchor="middle" font-size="9.2"><tspan x="606.87" font-size="10.4">(</tspan><tspan x="611.95">2</tspan><tspan x="617.2">1</tspan><tspan x="622.83" font-size="10.4">)</tspan></text>
<text y="192.8" text-anchor="middle" font-size="9.2"><tspan x="668.17" font-size="10.4">(</tspan><tspan x="672.7">1</tspan><tspan x="678.9">9</tspan><tspan x="684.13" font-size="10.4">)</tspan></text>
<text y="449.4" text-anchor="middle" font-size="9.2"><tspan x="63.97" font-size="10.4">(</tspan><tspan x="68.5">1</tspan><tspan x="74.99">6</tspan><tspan x="79.93" font-size="10.4">)</tspan></text>
<text y="432.5" text-anchor="middle" font-size="9.2"><tspan x="115.17" font-size="10.4">(</tspan><tspan x="119.7">1</tspan><tspan x="126.05">5</tspan><tspan x="131.13" font-size="10.4">)</tspan></text>
<text y="408.5" text-anchor="middle" font-size="9.2"><tspan x="119.87" font-size="10.4">(</tspan><tspan x="124.95">2</tspan><tspan x="130.75">3</tspan><tspan x="135.83" font-size="10.4">)</tspan></text>
<text y="412.4" text-anchor="middle" font-size="9.2"><tspan x="140.97" font-size="10.4">(</tspan><tspan x="145.5">1</tspan><tspan x="151.85">7</tspan><tspan x="156.93" font-size="10.4">)</tspan></text>
<text y="407.2" text-anchor="middle" font-size="9.2"><tspan x="156.57" font-size="10.4">(</tspan><tspan x="161.65">2</tspan><tspan x="167.45">2</tspan><tspan x="172.53" font-size="10.4">)</tspan></text>
<text y="407.6" text-anchor="middle" font-size="9.2"><tspan x="163.17" font-size="10.4">(</tspan><tspan x="167.7">1</tspan><tspan x="174.05">8</tspan><tspan x="179.13" font-size="10.4">)</tspan></text>
<text y="426.2" text-anchor="middle" font-size="9.2"><tspan x="178.87" font-size="10.4">(</tspan><tspan x="183.95">2</tspan><tspan x="189.2">1</tspan><tspan x="194.83" font-size="10.4">)</tspan></text>
<text y="368" text-anchor="middle" font-size="9.2"><tspan x="240.17" font-size="10.4">(</tspan><tspan x="244.7">1</tspan><tspan x="250.91">9</tspan><tspan x="256.13" font-size="10.4">)</tspan></text>
<text y="451.9" text-anchor="middle" font-size="9.2"><tspan x="277.97" font-size="10.4">(</tspan><tspan x="282.5">1</tspan><tspan x="289">6</tspan><tspan x="293.93" font-size="10.4">)</tspan></text>
<text y="438.9" text-anchor="middle" font-size="9.2"><tspan x="329.17" font-size="10.4">(</tspan><tspan x="333.7">1</tspan><tspan x="340.05">5</tspan><tspan x="345.13" font-size="10.4">)</tspan></text>
<text y="423.6" text-anchor="middle" font-size="9.2"><tspan x="333.87" font-size="10.4">(</tspan><tspan x="338.95">2</tspan><tspan x="344.75">3</tspan><tspan x="349.83" font-size="10.4">)</tspan></text>
<text y="402.3" text-anchor="middle" font-size="9.2"><tspan x="354.97" font-size="10.4">(</tspan><tspan x="359.5">1</tspan><tspan x="365.85">7</tspan><tspan x="370.93" font-size="10.4">)</tspan></text>
<text y="410.2" text-anchor="middle" font-size="9.2"><tspan x="370.57" font-size="10.4">(</tspan><tspan x="375.65">2</tspan><tspan x="381.45">2</tspan><tspan x="386.53" font-size="10.4">)</tspan></text>
<text y="408.9" text-anchor="middle" font-size="9.2"><tspan x="377.17" font-size="10.4">(</tspan><tspan x="381.7">1</tspan><tspan x="388.05">8</tspan><tspan x="393.13" font-size="10.4">)</tspan></text>
<text y="430.7" text-anchor="middle" font-size="9.2"><tspan x="392.87" font-size="10.4">(</tspan><tspan x="397.95">2</tspan><tspan x="403.2">1</tspan><tspan x="408.83" font-size="10.4">)</tspan></text>
<text y="370.5" text-anchor="middle" font-size="9.2"><tspan x="454.17" font-size="10.4">(</tspan><tspan x="458.7">1</tspan><tspan x="464.91">9</tspan><tspan x="470.13" font-size="10.4">)</tspan></text>
<text y="421.1" text-anchor="middle" font-size="9.2"><tspan x="491.97" font-size="10.4">(</tspan><tspan x="496.5">1</tspan><tspan x="503">6</tspan><tspan x="507.93" font-size="10.4">)</tspan></text>
<text y="414.4" text-anchor="middle" font-size="9.2"><tspan x="543.17" font-size="10.4">(</tspan><tspan x="547.7">1</tspan><tspan x="554.05">5</tspan><tspan x="559.13" font-size="10.4">)</tspan></text>
<text y="390.1" text-anchor="middle" font-size="9.2"><tspan x="547.87" font-size="10.4">(</tspan><tspan x="552.95">2</tspan><tspan x="558.75">3</tspan><tspan x="563.83" font-size="10.4">)</tspan></text>
<text y="385.3" text-anchor="middle" font-size="9.2"><tspan x="568.97" font-size="10.4">(</tspan><tspan x="573.5">1</tspan><tspan x="579.85">7</tspan><tspan x="584.93" font-size="10.4">)</tspan></text>
<text y="377.7" text-anchor="middle" font-size="9.2"><tspan x="584.57" font-size="10.4">(</tspan><tspan x="589.65">2</tspan><tspan x="595.45">2</tspan><tspan x="600.53" font-size="10.4">)</tspan></text>
<text y="360.4" text-anchor="middle" font-size="9.2"><tspan x="591.17" font-size="10.4">(</tspan><tspan x="595.7">1</tspan><tspan x="602.05">8</tspan><tspan x="607.13" font-size="10.4">)</tspan></text>
<text y="395.9" text-anchor="middle" font-size="9.2"><tspan x="606.87" font-size="10.4">(</tspan><tspan x="611.95">2</tspan><tspan x="617.2">1</tspan><tspan x="622.83" font-size="10.4">)</tspan></text>
<text y="334.4" text-anchor="middle" font-size="9.2"><tspan x="668.17" font-size="10.4">(</tspan><tspan x="672.7">1</tspan><tspan x="678.9">9</tspan><tspan x="684.13" font-size="10.4">)</tspan></text>
</g>
<text transform="scale(1.06 1)" x="297.16 308.16 316.65 324.21 331.78 340.26 348.97 356.99 365.48 373.96 381.06 387.48 395.74 404.22 410.87" y="499.5" font-size="14.2" fill="#3a3a3a" text-anchor="middle">max sunspot no.</text>
<text transform="translate(12.9 293.8) rotate(-90) scale(1.06 1)" y="0" font-size="14.2" fill="#3a3a3a" text-anchor="middle"><tspan x="4.58">L</tspan><tspan x="11.92">a</tspan><tspan x="21.09">n</tspan><tspan x="29.34">e</tspan><tspan x="37.14"> </tspan><tspan x="45.85">w</tspan><tspan x="52.73">i</tspan><tspan x="59.15">d</tspan><tspan x="66.02">t</tspan><tspan x="73.36">h</tspan><tspan x="81.15"> </tspan><tspan x="87.88" font-size="16.5" dy="1.0">(</tspan><tspan x="96.74" dy="-1.0">M</tspan><tspan x="109.12">m</tspan><tspan x="119.35" font-size="16.5" dy="1.0">)</tspan></text>
</svg>
</body></html>
